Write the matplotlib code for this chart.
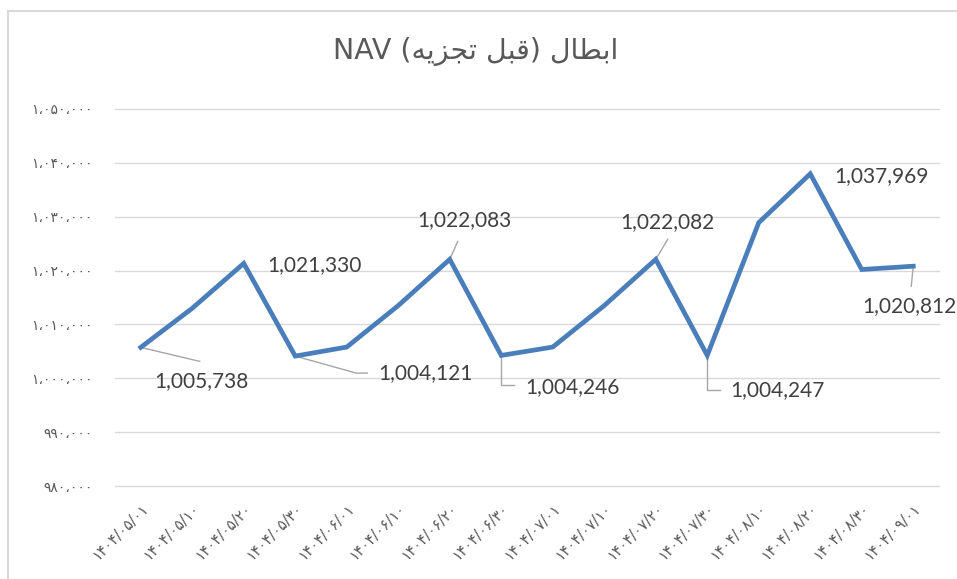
import numpy as np
import matplotlib
matplotlib.use("Agg")
import matplotlib.pyplot as plt
from matplotlib.patches import Rectangle

dates = ["1404/05/01", "1404/05/10", "1404/05/20", "1404/05/30",
         "1404/06/01", "1404/06/10", "1404/06/20", "1404/06/30",
         "1404/07/01", "1404/07/10", "1404/07/20", "1404/07/30",
         "1404/08/10", "1404/08/20", "1404/08/30", "1404/09/01"]
nav = [1005738, 1013000, 1021330, 1004121,
       1005800, 1013500, 1022083, 1004246,
       1005800, 1013500, 1022082, 1004247,
       1028900, 1037969, 1020200, 1020812]
labelled = [0, 2, 3, 6, 7, 10, 11, 13, 15]
y_ticks = [980000, 990000, 1000000, 1010000, 1020000, 1030000, 1040000, 1050000]

# label offsets (px, y down) and leader polylines per labelled point
label_off = {0: (61, 34), 2: (71, 2), 3: (130, 17), 6: (15, -39), 7: (71, 32),
             10: (12, -37), 11: (70, 35), 13: (71, 2), 15: (-4, 40)}
leaders = {0: [(0, 0), (59, 14)],
           3: [(0, 0), (61, 17), (72, 17)],
           6: [(0, 0), (8, -18)],
           7: [(0, 0), (0, 30), (13, 30)],
           10: [(0, 0), (12, -20)],
           11: [(0, 0), (0, 35), (13, 35)],
           15: [(0, 0), (-2, 20)]}

fa_digits = str.maketrans("0123456789", "۰۱۲۳۴۵۶۷۸۹")


def fa_num(v):
    return f"{v:,}".replace(",", "،").translate(fa_digits)


# title pre-shaped in visual order (no bidi engine in matplotlib)
ebtal = "\uFEDD\uFE8E\uFEC4\uFE91\uFE8D"
ghabl = "\uFEDE\uFE92\uFED7"
tajzie = "\uFEEA\uFEF3\uFEB0\uFEA0\uFE97"
title = "NAV (" + tajzie + " " + ghabl + ") " + ebtal

plt.rcParams['font.family'] = ['DejaVu Sans']

W, H = 957, 579
fig = plt.figure(figsize=(W / 100, H / 100), dpi=100)
fig.patches.append(Rectangle((8 / W, -0.1), 1.1, 1 - 11 / H + 0.1, transform=fig.transFigure,
                             fill=False, edgecolor="#D9D9D9", linewidth=1.5))
ax = fig.add_axes([115 / W, 1 - 486 / H, (939 - 115) / W, (486 - 109) / H])

x = np.arange(len(dates))
ax.plot(x, nav, color="#4A7EBB", linewidth=3.4, solid_joinstyle="miter", zorder=3)

ax.set_xlim(-0.5, len(dates) - 0.5)
ax.set_ylim(y_ticks[0], y_ticks[-1])
ax.set_yticks(y_ticks)
ax.set_yticklabels([fa_num(v) for v in y_ticks], color="#595959", fontsize=10)
ax.set_xticks(x)
ax.set_xticklabels([d.translate(fa_digits) for d in dates], rotation=45, ha="right",
                   rotation_mode="anchor", color="#595959", fontsize=10.5)
ax.tick_params(axis="both", length=0)
ax.tick_params(axis="y", pad=16)
ax.tick_params(axis="x", pad=10)
ax.grid(axis="y", color="#D9D9D9", linewidth=1)
for gl in ax.get_ygridlines():
    gl.set_clip_on(False)
ax.set_axisbelow(True)
for s in ax.spines.values():
    s.set_visible(False)

fig.text(476 / W, 1 - 52 / H, title, ha="center", va="center", fontsize=20.5, color="#595959")

fig.canvas.draw()
for i in labelled:
    px, py = ax.transData.transform((x[i], nav[i]))
    if i in leaders:
        pts = np.array(leaders[i], dtype=float)
        ax.plot(px + pts[:, 0], py - pts[:, 1], transform=None, color="#A6A6A6",
                linewidth=1, zorder=2, clip_on=False)
    dx, dy = label_off[i]
    ax.text(px + dx, py - dy, f"{nav[i]:,}", transform=None, ha="center", va="center",
            fontsize=15, family=["Lato", "DejaVu Sans"], color="#404040", clip_on=False)

fig.savefig("out.png", dpi=100)
